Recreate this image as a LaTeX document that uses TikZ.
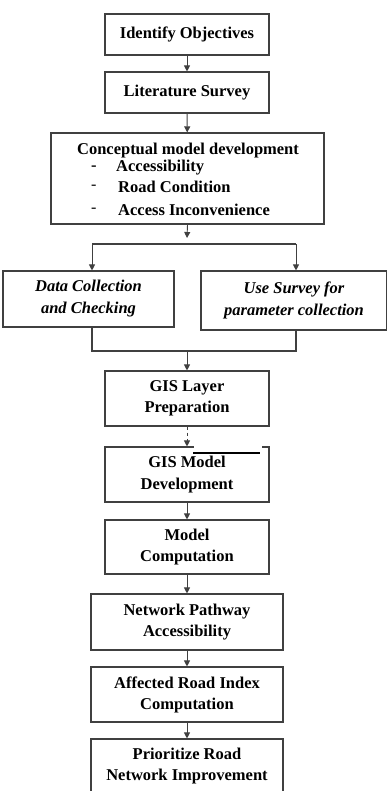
\documentclass[tikz,border=0pt]{standalone}
\usepackage{fontspec}
\setmainfont{Liberation Serif}
\usetikzlibrary{arrows.meta}
\begin{document}
\begin{tikzpicture}[x=1pt,y=-1pt,
  box/.style={draw=black!75,line width=1.1pt,rectangle,inner sep=0pt,
    align=center,font=\fontsize{16.5}{21}\selectfont\bfseries},
  ibox/.style={box,font=\fontsize{16.5}{22}\selectfont\bfseries\itshape},
  flow/.style={draw=black!75,line width=0.9pt,-{Triangle[length=6pt,width=6pt]}},
  link/.style={draw=black!75,line width=1.1pt},
  txt/.style={inner sep=0pt,font=\fontsize{16.5}{20}\selectfont\bfseries,anchor=west}]
\useasboundingbox (0,0) rectangle (387,791);

% main chain of boxes
\node[box,minimum width=164,minimum height=41] (obj) at (187,34.5) {Identify Objectives};
\node[box,minimum width=164,minimum height=41] (lit) at (187,92.5) {Literature Survey};
\node[box,minimum width=273,minimum height=91] (con) at (187.5,178.5) {};
\node[inner sep=0pt,font=\fontsize{16.5}{20}\selectfont\bfseries] (conT) at (188,151) {Conceptual model development};
\node[txt] (d1) at (91,168) {-};
\node[txt] (i1) at (116,168) {Accessibility};
\node[txt,font=\fontsize{16}{20}\selectfont] (d2) at (91,187) {-};
\node[txt] (i2) at (118,187) {Road Condition};
\node[txt,font=\fontsize{16}{20}\selectfont] (d3) at (91,210) {-};
\node[txt] (i3) at (118,210) {Access Inconvenience};

\node[ibox,minimum width=171,minimum height=56] (dat) at (88.5,299) {Data Collection\\and Checking};
\node[ibox,minimum width=186,minimum height=59] (use) at (294,300.5) {Use Survey for\\parameter collection};

\node[box,minimum width=164,minimum height=55] (lay) at (187,398.5) {GIS Layer\\Preparation};
% GIS model box, with a gap in its top edge and a heavy rule below it
\node[box,minimum width=164,minimum height=55,font=\fontsize{16.5}{22}\selectfont\bfseries] (gis) at (187,474.5) {GIS Model\\Development};
\draw[white,line width=2pt] (194,447) -- (262,447);
\draw[black,line width=2pt] (193,453) -- (260,453);

\node[box,minimum width=164,minimum height=54] (cmp) at (187,547) {Model\\Computation};
\node[box,minimum width=192,minimum height=56] (net) at (187,622) {Network Pathway\\Accessibility};
\node[box,minimum width=192,minimum height=55] (aff) at (187,694.5) {Affected Road Index\\Computation};
\node[box,minimum width=192,minimum height=54] (pri) at (187,766) {Prioritize Road\\Network Improvement};

% connectors
\draw[flow] (obj) -- (lit);
\draw[flow] (lit) -- (con);

\coordinate (splitL) at (92,244);
\coordinate (splitR) at (296,244);
\coordinate (below) at (187,238);
\draw[flow] (con.south) -- (below);
\draw[link] (splitL) -- (splitR);
\draw[flow] (splitL) -- (splitL |- dat.north);
\draw[flow] (splitR) -- (splitR |- use.north);

\coordinate (joinL) at (92,351);
\coordinate (joinR) at (296,351);
\coordinate (joinM) at (187,351);
\draw[link] (joinL |- dat.south) -- (joinL) -- (joinR) -- (joinR |- use.south);
\draw[flow] (joinM) -- (lay.north);

\draw[flow,dashed] (lay.south) -- (gis.north);
\draw[flow] (gis) -- (cmp);
\draw[flow] (cmp) -- (net);
\draw[flow] (net) -- (aff);
\draw[flow] (aff) -- (pri);
\end{tikzpicture}
\end{document}
